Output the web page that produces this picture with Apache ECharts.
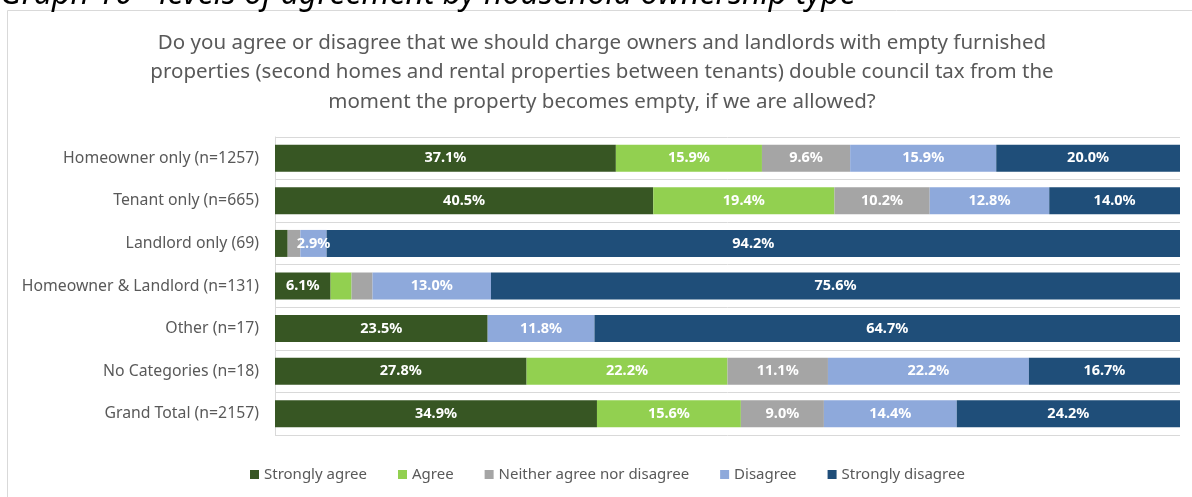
<!DOCTYPE html>
<html>
<head>
<meta charset="utf-8">
<script src="https://cdn.jsdelivr.net/npm/echarts@6/dist/echarts.min.js"></script>
<style>
  html, body { margin: 0; padding: 0; background: #fff; }
  #chart { width: 1192px; height: 497px; }
</style>
</head>
<body>
<div id="chart"></div>
<script>
// categories, top to bottom
const categories = [
  'Homeowner only (n=1257)',
  'Tenant only (n=665)',
  'Landlord only (69)',
  'Homeowner & Landlord (n=131)',
  'Other (n=17)',
  'No Categories (n=18)',
  'Grand Total (n=2157)'
]

// percentages as printed on the bars
const stronglyAgree    = [37.1, 40.5, 1.4, 6.1, 23.5, 27.8, 34.9]
const agree            = [15.9, 19.4, 0,   2.3, 0,    22.2, 15.6]
const neither          = [9.6,  10.2, 1.4, 2.3, 0,    11.1, 9.0]
const disagree         = [15.9, 12.8, 2.9, 13.0, 11.8, 22.2, 14.4]
const stronglyDisagree = [20.0, 14.0, 94.2, 75.6, 64.7, 16.7, 24.2]

const seriesNames = ['Strongly agree', 'Agree', 'Neither agree nor disagree', 'Disagree', 'Strongly disagree']
const seriesColors = ['#375623', '#92D050', '#A5A5A5', '#8EA9DB', '#1F4E79']

const allValues = [stronglyAgree, agree, neither, disagree, stronglyDisagree]

// each row is drawn as a 100% bar
const rowTotals = categories.map((c, i) => allValues.reduce((s, arr) => s + arr[i], 0))

const chart = echarts.init(document.getElementById('chart'))

const series = allValues.map((arr, k) => ({
  name: seriesNames[k],
  type: 'bar',
  stack: 'total',
  barWidth: 27,
  itemStyle: { color: seriesColors[k] },
  label: {
    show: true,
    color: '#fff',
    fontWeight: 'bold',
    fontSize: 14.5,
    fontFamily: 'Noto Sans',
    formatter: p => (p.data.raw >= 2.5 ? p.data.raw.toFixed(1) + '%' : '')
  },
  data: arr.map((v, i) => ({ value: v / rowTotals[i] * 100, raw: v }))
}))

chart.setOption({
  animation: false,
  title: {
    text: 'Do you agree or disagree that we should charge owners and landlords with empty furnished\nproperties (second homes and rental properties between tenants) double council tax from the\nmoment the property becomes empty, if we are allowed?',
    left: 597,
    textAlign: 'center',
    top: 23,
    textStyle: {
      color: '#595959',
      fontSize: 20.5,
      fontWeight: 'normal',
      fontFamily: 'Noto Sans',
      lineHeight: 29.5
    }
  },
  graphic: [
    {
      type: 'rect',
      shape: { x: 7.5, y: 10.5, width: 1200, height: 500 },
      style: { fill: 'none', stroke: '#d9d9d9', lineWidth: 1 }
    },
    {
      type: 'text',
      style: {
        x: 0,
        y: 10.5,
        text: 'Graph 10 - levels of agreement by household ownership type',
        fontSize: 32,
        fontStyle: 'italic',
        fontFamily: 'Noto Sans',
        fill: '#000',
        verticalAlign: 'bottom'
      }
    }
  ],
  legend: {
    bottom: 10,
    left: 245,
    icon: 'rect',
    itemWidth: 9,
    itemHeight: 9,
    itemGap: 31,
    textStyle: { color: '#595959', fontSize: 15, fontFamily: 'Noto Sans' },
    data: seriesNames
  },
  grid: { left: 275, right: 12, top: 137, bottom: 62 },
  xAxis: {
    type: 'value',
    min: 0,
    max: 100,
    show: false
  },
  yAxis: {
    type: 'category',
    inverse: true,
    data: categories,
    axisLine: { show: true, lineStyle: { color: '#d9d9d9' } },
    axisTick: { show: false },
    splitLine: { show: true, lineStyle: { color: '#d9d9d9' } },
    axisLabel: { color: '#595959', fontSize: 15.8, fontFamily: 'Noto Sans', margin: 16 }
  },
  series: series
})
</script>
</body>
</html>
